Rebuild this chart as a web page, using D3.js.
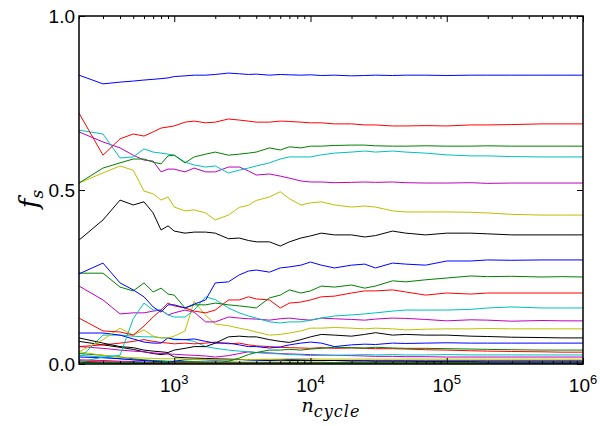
<!DOCTYPE html>
<html>
<head>
<meta charset="utf-8">
<script src="https://cdn.jsdelivr.net/npm/d3@7"></script>
<style>
    body { margin: 0; background: #fff; }
    svg text { font-family: "Liberation Sans", Arial, sans-serif; fill: #000; }
    .math { font-family: "DejaVu Serif", "Liberation Serif", serif; font-style: italic; }
</style>
</head>
<body>
<div id="chart"></div>
<script>
// number of cycles (x) shared by all runs
var cycles = [200, 300, 400, 500, 600, 700, 800, 900, 1000, 1200,
    1400, 1700, 2000, 2500, 3000, 3500, 4000, 5000, 6000, 7000,
    8500, 1e4, 1.2e4, 1.5e4, 2e4, 2.5e4, 3e4, 4e4, 5e4, 7e4,
    1e5, 1.5e5, 2e5, 3e5, 5e5, 7e5, 1e6];

var xMajor = [1e3, 1e4, 1e5, 1e6];
var xLabels = ["3", "4", "5", "6"];
var yTicks = [0, 0.5, 1];
var yLabels = ["0.0", "0.5", "1.0"];

// fractions f_s, one array per run
var blue1 = [0.830, 0.805, 0.810, 0.813, 0.816, 0.818, 0.820, 0.822, 0.826, 0.828,
    0.830, 0.830, 0.832, 0.836, 0.834, 0.832, 0.833, 0.830, 0.832, 0.831,
    0.830, 0.831, 0.829, 0.830, 0.828, 0.829, 0.830, 0.829, 0.830, 0.830,
    0.829, 0.830, 0.830, 0.830, 0.830, 0.830, 0.830];
var red1 = [0.721, 0.600, 0.647, 0.661, 0.655, 0.667, 0.678, 0.681, 0.684, 0.695,
    0.698, 0.693, 0.695, 0.704, 0.701, 0.698, 0.695, 0.695, 0.698, 0.697,
    0.695, 0.693, 0.693, 0.690, 0.690, 0.687, 0.687, 0.684, 0.684, 0.685,
    0.684, 0.687, 0.687, 0.688, 0.690, 0.690, 0.690];
var green1 = [0.520, 0.563, 0.578, 0.589, 0.589, 0.580, 0.575, 0.598, 0.600, 0.578,
    0.595, 0.603, 0.609, 0.600, 0.603, 0.606, 0.609, 0.621, 0.615, 0.624,
    0.621, 0.626, 0.626, 0.628, 0.629, 0.629, 0.627, 0.626, 0.626, 0.627,
    0.626, 0.626, 0.627, 0.626, 0.626, 0.626, 0.626];
var cyan1 = [0.672, 0.661, 0.592, 0.595, 0.618, 0.609, 0.606, 0.603, 0.600, 0.580,
    0.572, 0.566, 0.569, 0.549, 0.557, 0.563, 0.569, 0.578, 0.589, 0.595,
    0.595, 0.595, 0.601, 0.606, 0.609, 0.612, 0.609, 0.612, 0.609, 0.606,
    0.601, 0.598, 0.598, 0.596, 0.595, 0.595, 0.595];
var magenta1 = [0.667, 0.638, 0.621, 0.600, 0.586, 0.583, 0.552, 0.560, 0.560, 0.552,
    0.563, 0.552, 0.552, 0.566, 0.566, 0.555, 0.543, 0.546, 0.540, 0.534,
    0.526, 0.523, 0.523, 0.521, 0.522, 0.523, 0.522, 0.523, 0.521, 0.520,
    0.520, 0.521, 0.519, 0.520, 0.520, 0.520, 0.520];
var yellow1 = [0.520, 0.549, 0.569, 0.557, 0.497, 0.489, 0.471, 0.480, 0.451, 0.440,
    0.443, 0.434, 0.414, 0.428, 0.450, 0.456, 0.470, 0.480, 0.495, 0.475,
    0.457, 0.463, 0.466, 0.457, 0.451, 0.454, 0.451, 0.440, 0.437, 0.437,
    0.437, 0.436, 0.434, 0.430, 0.428, 0.428, 0.428];
var black1 = [0.356, 0.414, 0.471, 0.457, 0.466, 0.434, 0.385, 0.397, 0.382, 0.376,
    0.379, 0.379, 0.376, 0.360, 0.362, 0.355, 0.351, 0.351, 0.339, 0.351,
    0.362, 0.368, 0.376, 0.371, 0.371, 0.365, 0.369, 0.382, 0.376, 0.371,
    0.376, 0.376, 0.374, 0.371, 0.371, 0.371, 0.371];
var blue2 = [0.259, 0.290, 0.233, 0.213, 0.193, 0.164, 0.149, 0.170, 0.170, 0.161,
    0.172, 0.184, 0.233, 0.236, 0.256, 0.267, 0.270, 0.264, 0.276, 0.279,
    0.284, 0.293, 0.284, 0.276, 0.284, 0.287, 0.276, 0.290, 0.287, 0.284,
    0.296, 0.296, 0.299, 0.298, 0.299, 0.299, 0.299];
var green2 = [0.261, 0.261, 0.221, 0.210, 0.233, 0.207, 0.218, 0.201, 0.198, 0.161,
    0.170, 0.170, 0.175, 0.170, 0.167, 0.164, 0.161, 0.190, 0.198, 0.213,
    0.204, 0.210, 0.224, 0.221, 0.227, 0.218, 0.224, 0.239, 0.236, 0.242,
    0.247, 0.253, 0.251, 0.252, 0.250, 0.251, 0.250];
var red2 = [0.132, 0.095, 0.092, 0.083, 0.109, 0.135, 0.155, 0.175, 0.167, 0.161,
    0.152, 0.147, 0.155, 0.184, 0.184, 0.193, 0.187, 0.184, 0.161, 0.175,
    0.178, 0.184, 0.193, 0.195, 0.204, 0.210, 0.210, 0.213, 0.207, 0.198,
    0.204, 0.201, 0.204, 0.204, 0.204, 0.204, 0.204];
var cyan2 = [0.005, 0.020, 0.025, 0.130, 0.175, 0.155, 0.155, 0.141, 0.135, 0.135,
    0.155, 0.193, 0.185, 0.161, 0.147, 0.138, 0.132, 0.121, 0.118, 0.121,
    0.121, 0.126, 0.132, 0.138, 0.141, 0.144, 0.147, 0.152, 0.155, 0.155,
    0.155, 0.157, 0.161, 0.164, 0.161, 0.161, 0.161];
var magenta2 = [0.224, 0.184, 0.144, 0.147, 0.147, 0.152, 0.155, 0.141, 0.147, 0.155,
    0.149, 0.121, 0.121, 0.135, 0.132, 0.130, 0.129, 0.126, 0.130, 0.132,
    0.128, 0.126, 0.132, 0.130, 0.128, 0.126, 0.129, 0.132, 0.131, 0.128,
    0.124, 0.127, 0.126, 0.123, 0.125, 0.124, 0.124];
var yellow2 = [0.035, 0.070, 0.103, 0.083, 0.098, 0.080, 0.075, 0.075, 0.080, 0.095,
    0.180, 0.140, 0.115, 0.110, 0.103, 0.098, 0.092, 0.083, 0.085, 0.089,
    0.095, 0.103, 0.103, 0.105, 0.103, 0.101, 0.103, 0.101, 0.098, 0.100,
    0.101, 0.101, 0.102, 0.101, 0.101, 0.101, 0.101];
var black2 = [0.075, 0.060, 0.050, 0.047, 0.040, 0.037, 0.035, 0.033, 0.040, 0.045,
    0.050, 0.050, 0.060, 0.078, 0.080, 0.078, 0.078, 0.070, 0.065, 0.062,
    0.070, 0.078, 0.085, 0.083, 0.080, 0.085, 0.090, 0.083, 0.085, 0.083,
    0.083, 0.080, 0.079, 0.077, 0.076, 0.075, 0.075];
var blue3 = [0.089, 0.089, 0.083, 0.072, 0.063, 0.060, 0.060, 0.075, 0.070, 0.070,
    0.072, 0.065, 0.060, 0.060, 0.055, 0.050, 0.050, 0.046, 0.049, 0.055,
    0.060, 0.063, 0.060, 0.050, 0.055, 0.057, 0.056, 0.060, 0.059, 0.060,
    0.061, 0.060, 0.060, 0.060, 0.060, 0.060, 0.060];
var green3 = [0.003, 0.004, 0.004, 0.004, 0.004, 0.003, 0.003, 0.003, 0.003, 0.003,
    0.003, 0.003, 0.002, 0.008, 0.017, 0.027, 0.033, 0.040, 0.040, 0.042,
    0.040, 0.043, 0.045, 0.048, 0.047, 0.046, 0.048, 0.046, 0.045, 0.045,
    0.044, 0.043, 0.042, 0.041, 0.040, 0.040, 0.040];
var red3 = [0.050, 0.055, 0.060, 0.065, 0.070, 0.065, 0.062, 0.060, 0.058, 0.060,
    0.058, 0.060, 0.063, 0.058, 0.060, 0.055, 0.052, 0.050, 0.048, 0.047,
    0.046, 0.045, 0.047, 0.045, 0.046, 0.045, 0.044, 0.044, 0.043, 0.041,
    0.040, 0.038, 0.037, 0.036, 0.035, 0.034, 0.034];
var cyan3 = [0.015, 0.083, 0.083, 0.080, 0.078, 0.078, 0.075, 0.075, 0.072, 0.070,
    0.065, 0.050, 0.045, 0.040, 0.037, 0.035, 0.033, 0.030, 0.029, 0.027,
    0.026, 0.024, 0.025, 0.025, 0.026, 0.027, 0.026, 0.027, 0.026, 0.026,
    0.027, 0.026, 0.026, 0.026, 0.026, 0.026, 0.026];
var magenta3 = [0.050, 0.045, 0.040, 0.037, 0.035, 0.032, 0.030, 0.029, 0.028, 0.026,
    0.025, 0.023, 0.020, 0.024, 0.030, 0.035, 0.033, 0.032, 0.030, 0.029,
    0.028, 0.027, 0.026, 0.025, 0.024, 0.023, 0.022, 0.022, 0.021, 0.021,
    0.020, 0.020, 0.020, 0.020, 0.020, 0.020, 0.020];
var yellow3 = [0.035, 0.025, 0.020, 0.018, 0.017, 0.016, 0.015, 0.015, 0.015, 0.014,
    0.013, 0.013, 0.012, 0.012, 0.012, 0.013, 0.013, 0.014, 0.014, 0.015,
    0.015, 0.015, 0.014, 0.014, 0.014, 0.014, 0.014, 0.014, 0.014, 0.014,
    0.014, 0.014, 0.014, 0.014, 0.014, 0.014, 0.014];
var black3 = [0.065, 0.055, 0.048, 0.042, 0.035, 0.030, 0.027, 0.030, 0.020, 0.018,
    0.017, 0.016, 0.015, 0.014, 0.013, 0.012, 0.012, 0.011, 0.011, 0.010,
    0.010, 0.010, 0.010, 0.010, 0.009, 0.009, 0.009, 0.009, 0.009, 0.009,
    0.009, 0.009, 0.009, 0.009, 0.009, 0.009, 0.009];
var blue4 = [0.020, 0.018, 0.015, 0.012, 0.010, 0.008, 0.006, 0.004, 0.008, 0.012,
    0.013, 0.012, 0.011, 0.012, 0.013, 0.012, 0.011, 0.010, 0.012, 0.013,
    0.012, 0.011, 0.010, 0.010, 0.009, 0.009, 0.008, 0.008, 0.008, 0.007,
    0.007, 0.007, 0.006, 0.006, 0.006, 0.006, 0.006];
var green4 = [0.030, 0.025, 0.020, 0.015, 0.012, 0.010, 0.009, 0.008, 0.008, 0.007,
    0.007, 0.006, 0.006, 0.006, 0.005, 0.005, 0.005, 0.005, 0.005, 0.005,
    0.005, 0.005, 0.005, 0.004, 0.004, 0.004, 0.004, 0.004, 0.004, 0.004,
    0.004, 0.004, 0.004, 0.004, 0.004, 0.004, 0.004];
var red4 = [0.008, 0.006, 0.005, 0.004, 0.004, 0.004, 0.004, 0.004, 0.004, 0.004,
    0.004, 0.004, 0.004, 0.003, 0.003, 0.003, 0.003, 0.003, 0.003, 0.003,
    0.003, 0.003, 0.003, 0.003, 0.003, 0.003, 0.003, 0.003, 0.003, 0.003,
    0.003, 0.003, 0.003, 0.003, 0.003, 0.003, 0.003];
var cyan4 = [0.025, 0.020, 0.015, 0.012, 0.010, 0.009, 0.008, 0.007, 0.006, 0.006,
    0.005, 0.005, 0.005, 0.004, 0.004, 0.004, 0.004, 0.004, 0.004, 0.004,
    0.004, 0.003, 0.003, 0.003, 0.003, 0.003, 0.003, 0.003, 0.003, 0.003,
    0.003, 0.003, 0.003, 0.003, 0.003, 0.003, 0.003];
var magenta4 = [0.012, 0.010, 0.008, 0.007, 0.006, 0.005, 0.005, 0.004, 0.004, 0.004,
    0.003, 0.003, 0.003, 0.003, 0.003, 0.003, 0.003, 0.002, 0.002, 0.002,
    0.002, 0.002, 0.002, 0.002, 0.002, 0.002, 0.002, 0.002, 0.002, 0.002,
    0.002, 0.002, 0.002, 0.002, 0.002, 0.002, 0.002];
var yellow4 = [0.010, 0.008, 0.006, 0.005, 0.004, 0.004, 0.003, 0.003, 0.003, 0.003,
    0.003, 0.003, 0.003, 0.003, 0.003, 0.002, 0.002, 0.002, 0.002, 0.002,
    0.002, 0.002, 0.002, 0.002, 0.002, 0.002, 0.002, 0.002, 0.002, 0.002,
    0.002, 0.002, 0.002, 0.002, 0.002, 0.002, 0.002];
var black4 = [0.005, 0.004, 0.003, 0.003, 0.002, 0.002, 0.002, 0.002, 0.002, 0.002,
    0.002, 0.002, 0.002, 0.002, 0.001, 0.001, 0.001, 0.001, 0.001, 0.001,
    0.001, 0.001, 0.001, 0.001, 0.001, 0.001, 0.001, 0.001, 0.001, 0.001,
    0.001, 0.001, 0.001, 0.001, 0.001, 0.001, 0.001];
var blue5 = [0.004, 0.003, 0.002, 0.002, 0.002, 0.002, 0.001, 0.001, 0.001, 0.001,
    0.001, 0.001, 0.001, 0.001, 0.001, 0.001, 0.001, 0.001, 0.001, 0.001,
    0.001, 0.001, 0.001, 0.001, 0.001, 0.001, 0.001, 0.001, 0.001, 0.001,
    0.001, 0.001, 0.001, 0.001, 0.001, 0.001, 0.001];

var colors = { b: "#0000ff", g: "#008000", r: "#ff0000", c: "#00bfbf", m: "#bf00bf", y: "#bfbf00", k: "#000000" };

var runs = [
    ["b", blue5], ["k", black4], ["y", yellow4], ["m", magenta4], ["c", cyan4], ["r", red4], ["g", green4], ["b", blue4],
    ["k", black3], ["y", yellow3], ["m", magenta3], ["c", cyan3], ["r", red3], ["g", green3], ["b", blue3],
    ["k", black2], ["y", yellow2], ["m", magenta2], ["c", cyan2], ["r", red2], ["g", green2], ["b", blue2],
    ["k", black1], ["y", yellow1], ["m", magenta1], ["c", cyan1], ["g", green1], ["r", red1], ["b", blue1]
];

var width = 600, height = 426;
var margin = { left: 79, right: 17, top: 16, bottom: 62 };
var innerW = width - margin.left - margin.right,
    innerH = height - margin.top - margin.bottom;

var svg = d3.select("#chart").append("svg")
    .attr("width", width)
    .attr("height", height);

var g = svg.append("g")
    .attr("transform", "translate(" + margin.left + "," + margin.top + ")");

var x = d3.scaleLog().domain([200, 1e6]).range([0, innerW]);
var y = d3.scaleLinear().domain([0, 1]).range([innerH, 0]);

g.append("clipPath").attr("id", "plotclip")
    .append("rect").attr("width", innerW).attr("height", innerH);

var line = d3.line()
    .x(function (d) { return x(d[0]); })
    .y(function (d) { return y(d[1]); });

g.append("g").attr("clip-path", "url(#plotclip)")
    .selectAll("path")
    .data(runs)
    .enter().append("path")
    .attr("fill", "none")
    .attr("stroke", function (d) { return colors[d[0]]; })
    .attr("stroke-width", 1)
    .attr("d", function (d) {
        return line(cycles.map(function (c, i) { return [c, d[1][i]]; }));
    });

// minor ticks of the log axis
var xMinor = [];
[100, 1e3, 1e4, 1e5].forEach(function (dec) {
    for (var k = 2; k <= 9; k++) {
        var v = dec * k;
        if (v >= 200 && v < 1e6) xMinor.push(v);
    }
});

function styleAxis(sel) {
    sel.select(".domain").remove();
    sel.selectAll(".tick line").attr("stroke", "#000").attr("stroke-width", 1);
    sel.selectAll(".tick text").remove();
}

g.append("g").attr("transform", "translate(0," + innerH + ")")
    .call(d3.axisBottom(x).tickValues(xMajor).tickSize(-6)).call(styleAxis);
g.append("g").attr("transform", "translate(0," + innerH + ")")
    .call(d3.axisBottom(x).tickValues(xMinor).tickSize(-3)).call(styleAxis);
g.append("g")
    .call(d3.axisTop(x).tickValues(xMajor).tickSize(-6)).call(styleAxis);
g.append("g")
    .call(d3.axisTop(x).tickValues(xMinor).tickSize(-3)).call(styleAxis);
g.append("g")
    .call(d3.axisLeft(y).tickValues(yTicks).tickSize(-6)).call(styleAxis);
g.append("g").attr("transform", "translate(" + innerW + ",0)")
    .call(d3.axisRight(y).tickValues(yTicks).tickSize(-6)).call(styleAxis);

g.append("rect")
    .attr("width", innerW).attr("height", innerH)
    .attr("fill", "none").attr("stroke", "#000").attr("stroke-width", 1.5);

// tick labels
g.selectAll(".ylab").data(yTicks).enter().append("text")
    .attr("class", "ylab")
    .attr("x", -4)
    .attr("y", function (d) { return y(d) + 2; })
    .attr("text-anchor", "end")
    .attr("dominant-baseline", "middle")
    .style("font-size", "19px")
    .text(function (d, i) { return yLabels[i]; });

var xl = g.selectAll(".xlab").data(xMajor).enter().append("text")
    .attr("class", "xlab")
    .attr("x", function (d) { return x(d); })
    .attr("y", innerH + 28)
    .attr("text-anchor", "middle")
    .style("font-size", "19px");
xl.append("tspan").text("10");
xl.append("tspan").attr("dy", -8).style("font-size", "13px")
    .text(function (d, i) { return xLabels[i]; });

// axis titles
var xt = svg.append("text")
    .attr("x", margin.left + innerW / 2)
    .attr("y", 412)
    .attr("text-anchor", "middle");
xt.append("tspan").attr("class", "math").style("font-size", "19px").text("n");
xt.append("tspan").attr("class", "math").attr("dy", 5)
    .style("font-size", "16px").style("letter-spacing", "1px").text("cycle");

var yt = svg.append("text")
    .attr("transform", "translate(38,199) rotate(-90)")
    .attr("text-anchor", "middle");
yt.append("tspan").attr("class", "math").style("font-size", "26px").text("f");
yt.append("tspan").attr("class", "math").attr("dy", 5).style("font-size", "17px").text("s");
</script>
</body>
</html>
